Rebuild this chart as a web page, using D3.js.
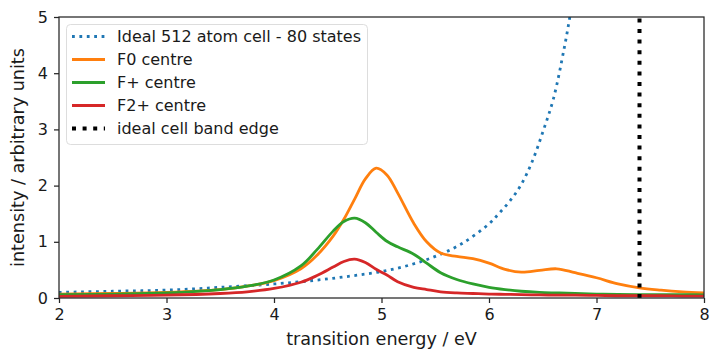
<!DOCTYPE html>
<html>
<head>
<meta charset="utf-8">
<script src="https://cdn.jsdelivr.net/npm/d3@7"></script>
<style>
  body { margin: 0; background: #fff; }
  text { font-family: "DejaVu Sans", sans-serif; fill: #1a1a1a; }
</style>
</head>
<body>
<script>
// energy grid shared by the defect spectra (eV)
var energy = [2.0, 2.5, 3.0, 3.5, 3.75, 4.0, 4.25, 4.4, 4.55, 4.65, 4.75, 4.85, 4.95, 5.05, 5.15,
  5.3, 5.42, 5.55, 5.7, 5.85, 6.0, 6.15, 6.3, 6.47, 6.63, 6.8, 7.0, 7.2, 7.4, 7.6, 7.8, 8.0];

var f0 = [0.07, 0.08, 0.10, 0.15, 0.21, 0.31, 0.52, 0.76, 1.10, 1.40, 1.76, 2.12, 2.31, 2.19, 1.87,
  1.33, 1.00, 0.80, 0.74, 0.70, 0.62, 0.51, 0.46, 0.49, 0.52, 0.45, 0.36, 0.25, 0.18, 0.14, 0.11, 0.09];

var fPlus = [0.06, 0.07, 0.09, 0.15, 0.21, 0.32, 0.57, 0.86, 1.19, 1.36, 1.42, 1.34, 1.17, 1.01, 0.91,
  0.78, 0.62, 0.45, 0.33, 0.25, 0.19, 0.15, 0.12, 0.10, 0.09, 0.08, 0.07, 0.065, 0.06, 0.06, 0.06, 0.055];

var f2Plus = [0.03, 0.04, 0.05, 0.08, 0.11, 0.17, 0.28, 0.40, 0.55, 0.65, 0.69, 0.63, 0.51, 0.41, 0.29,
  0.19, 0.15, 0.11, 0.09, 0.08, 0.07, 0.065, 0.06, 0.055, 0.05, 0.05, 0.045, 0.04, 0.04, 0.04, 0.035, 0.035];

// ideal cell spectrum, its own grid
var idealEnergy = [2.0, 2.5, 3.0, 3.5, 4.0, 4.25, 4.5, 4.75, 5.0, 5.25, 5.5, 5.75, 6.0, 6.1, 6.2,
  6.3, 6.4, 6.5, 6.6, 6.7, 6.75, 6.8];
var ideal = [0.10, 0.12, 0.14, 0.19, 0.25, 0.29, 0.34, 0.40, 0.47, 0.58, 0.74, 0.97, 1.32, 1.52, 1.74,
  2.02, 2.42, 2.95, 3.55, 4.45, 4.98, 5.6];

var bandEdge = 7.4;

var xTicks = [2, 3, 4, 5, 6, 7, 8];
var yTicks = [0, 1, 2, 3, 4, 5];

var legendNames = ["Ideal 512 atom cell - 80 states", "F0 centre", "F+ centre", "F2+ centre", "ideal cell band edge"];

// Variables for the svg
var w = 720;
var h = 360;
var margin = {left: 59, right: 16, top: 17, bottom: 62};

var svg = d3.select("body")
  .append("svg")
  .attr("width", w)
  .attr("height", h);

var xScale = d3.scaleLinear()
  .domain([2, 8])
  .range([margin.left, w - margin.right]);

var yScale = d3.scaleLinear()
  .domain([0, 5])
  .range([h - margin.bottom, margin.top]);

svg.append("clipPath")
  .attr("id", "plotclip")
  .append("rect")
  .attr("x", margin.left)
  .attr("y", margin.top)
  .attr("width", w - margin.left - margin.right)
  .attr("height", h - margin.top - margin.bottom);

var line = d3.line()
  .x(function(d) { return xScale(d[0]); })
  .y(function(d) { return yScale(d[1]); })
  .curve(d3.curveCatmullRom.alpha(0.5));

var plot = svg.append("g").attr("clip-path", "url(#plotclip)");

var series = [
  {xs: idealEnergy, ys: ideal, color: "#1f77b4", dash: "2.8,4.6"},
  {xs: energy, ys: f0, color: "#ff7f0e", dash: null},
  {xs: energy, ys: fPlus, color: "#2ca02c", dash: null},
  {xs: energy, ys: f2Plus, color: "#d62728", dash: null}
];

series.forEach(function(s) {
  plot.append("path")
    .datum(s.xs.map(function(x, i) { return [x, s.ys[i]]; }))
    .attr("d", line)
    .attr("fill", "none")
    .attr("stroke", s.color)
    .attr("stroke-width", 2.8)
    .attr("stroke-dasharray", s.dash);
});

// band edge
plot.append("line")
  .attr("x1", xScale(bandEdge))
  .attr("x2", xScale(bandEdge))
  .attr("y1", yScale(0))
  .attr("y2", yScale(5))
  .attr("stroke", "#000")
  .attr("stroke-width", 4)
  .attr("stroke-dasharray", "4,6.6");

// axes
var xAxis = svg.append("g")
  .attr("transform", "translate(0," + (h - margin.bottom) + ")")
  .call(d3.axisBottom(xScale).tickValues(xTicks).tickFormat(d3.format("d")).tickSize(5).tickPadding(6));

var yAxis = svg.append("g")
  .attr("transform", "translate(" + margin.left + ",0)")
  .call(d3.axisLeft(yScale).tickValues(yTicks).tickFormat(d3.format("d")).tickSize(5).tickPadding(6));

[xAxis, yAxis].forEach(function(a) {
  a.selectAll("text").style("font-size", "16px").style("font-family", "DejaVu Sans").attr("fill", "#1a1a1a");
  a.selectAll("line").attr("stroke", "#262626").attr("stroke-width", 1.25);
  a.select(".domain").remove();
});

// frame
svg.append("rect")
  .attr("x", margin.left)
  .attr("y", margin.top)
  .attr("width", w - margin.left - margin.right)
  .attr("height", h - margin.top - margin.bottom)
  .attr("fill", "none")
  .attr("stroke", "#262626")
  .attr("stroke-width", 1.25);

// axis labels
svg.append("text")
  .attr("x", (margin.left + w - margin.right) / 2)
  .attr("y", 345)
  .style("text-anchor", "middle")
  .style("font-size", "17.6px")
  .text("transition energy / eV");

svg.append("text")
  .attr("transform", "translate(24," + ((margin.top + h - margin.bottom) / 2) + ") rotate(-90)")
  .style("text-anchor", "middle")
  .style("font-size", "17.6px")
  .text("intensity / arbitrary units");

// legend
var legend = svg.append("g");
legend.append("rect")
  .attr("x", 66.5)
  .attr("y", 24.5)
  .attr("width", 301)
  .attr("height", 120)
  .attr("rx", 4)
  .attr("fill", "#fff")
  .attr("fill-opacity", 0.8)
  .attr("stroke", "#dddddd")
  .attr("stroke-width", 1);

var legendStyles = [
  {color: "#1f77b4", dash: "2.8,4.6", width: 2.8},
  {color: "#ff7f0e", dash: null, width: 2.8},
  {color: "#2ca02c", dash: null, width: 2.8},
  {color: "#d62728", dash: null, width: 2.8},
  {color: "#000", dash: "4,6.6", width: 4}
];

var items = legend.selectAll(".legend")
  .data(legendNames)
  .enter()
  .append("g")
  .attr("class", "legend")
  .attr("transform", function(d, i) { return "translate(0," + (36.5 + i * 23) + ")"; });

items.append("line")
  .attr("x1", 72)
  .attr("x2", 105)
  .attr("y1", 0)
  .attr("y2", 0)
  .attr("stroke", function(d, i) { return legendStyles[i].color; })
  .attr("stroke-width", function(d, i) { return legendStyles[i].width; })
  .attr("stroke-dasharray", function(d, i) { return legendStyles[i].dash; });

items.append("text")
  .attr("x", 117)
  .attr("y", 0)
  .attr("dy", "0.35em")
  .style("font-size", "16px")
  .text(function(d) { return d; });
</script>
</body>
</html>
